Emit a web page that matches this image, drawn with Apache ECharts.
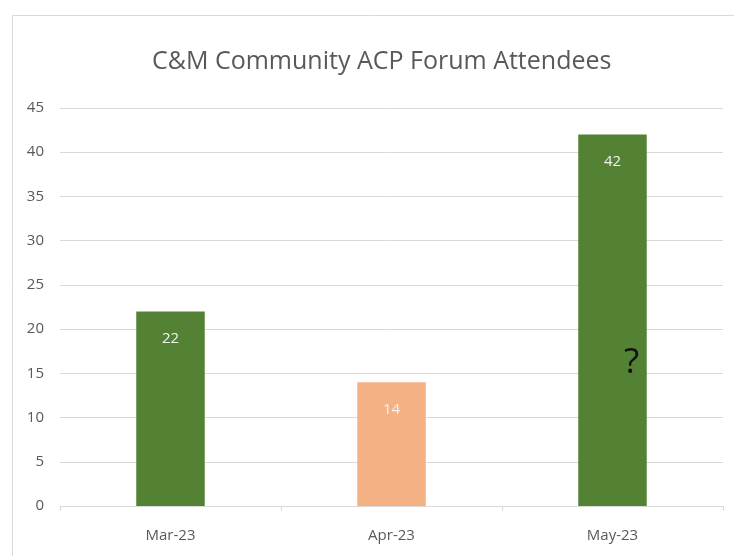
<!DOCTYPE html>
<html><head><meta charset="utf-8">
<script src="https://cdn.jsdelivr.net/npm/echarts@6/dist/echarts.min.js"></script>
<style>html,body{margin:0;padding:0;background:#fff}#c{width:734px;height:556px}</style>
</head><body><div id="c"></div>
<script>
const categories = ['Mar-23', 'Apr-23', 'May-23'];
const attendees = [22, 14, 42];
const barColors = ['#548235', '#F4B183', '#548235'];
const titleText = 'C&M Community ACP Forum Attendees';

const chart = echarts.init(document.getElementById('c'));
const font = '"Open Sans", "Liberation Sans", sans-serif';
chart.setOption({
  animation: false,
  backgroundColor: '#fff',
  title: { text: titleText, left: 147, top: 44,
    textStyle: { fontFamily: font, fontSize: 25, fontWeight: 'normal', color: '#595959' } },
  grid: { left: 60, right: 11, top: 108, bottom: 50, containLabel: false },
  xAxis: { type: 'category', data: categories,
    axisLine: { lineStyle: { color: '#d9d9d9' } },
    axisTick: { show: true, alignWithLabel: false, lineStyle: { color: '#d9d9d9' } },
    axisLabel: { fontFamily: font, fontSize: 15, color: '#595959', margin: 22 } },
  yAxis: { type: 'value', min: 0, max: 45, interval: 5,
    axisLine: { show: false }, axisTick: { show: false },
    splitLine: { lineStyle: { color: '#d9d9d9' } },
    axisLabel: { fontFamily: font, fontSize: 15, color: '#595959', margin: 16 } },
  series: [{
    type: 'bar', barWidth: '31%',
    data: attendees.map((v, i) => ({ value: v, itemStyle: { color: barColors[i] } })),
    label: { show: true, position: 'insideTop', distance: 20, color: '#f2f2f2',
      fontFamily: font, fontSize: 15 }
  }],
  graphic: [
    { type: 'rect', left: 10, top: 13, z: 0, shape: { width: 760, height: 600 },
      style: { fill: 'none', stroke: '#d9d9d9', lineWidth: 1 }, silent: true },
    { type: 'text', left: 624, top: 346, z: 100, zlevel: 1,
      style: { text: '?', font: '35px "Open Sans", sans-serif', fill: '#111' } }
  ]
});
</script></body></html>
